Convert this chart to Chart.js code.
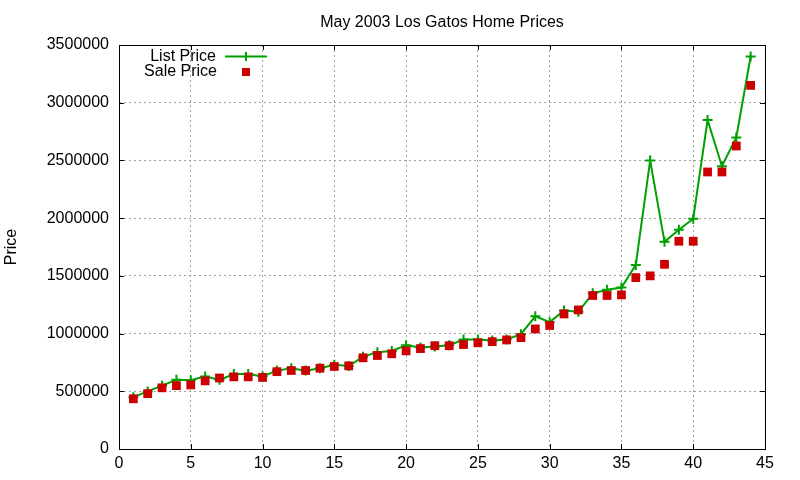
<!DOCTYPE html>
<html>
<head>
<meta charset="utf-8">
<title>May 2003 Los Gatos Home Prices</title>
<script src="https://cdn.jsdelivr.net/npm/chart.js@4/dist/chart.umd.min.js"></script>
<style>
  html, body { margin: 0; padding: 0; background: #fff; }
  #wrap { width: 800px; height: 480px; }
</style>
</head>
<body>
<div id="wrap"><canvas id="chart" width="800" height="480"></canvas></div>
<script>
const CHART_TITLE = 'May 2003 Los Gatos Home Prices';
const Y_TITLE = 'Price';
const LIST_LABEL = 'List Price';
const SALE_LABEL = 'Sale Price';

// house number (x axis)
const houseNo = [1, 2, 3, 4, 5, 6, 7, 8, 9, 10, 11, 12, 13, 14, 15, 16, 17, 18, 19, 20, 21, 22,
  23, 24, 25, 26, 27, 28, 29, 30, 31, 32, 33, 34, 35, 36, 37, 38, 39, 40, 41, 42, 43, 44];

const listPrice = [449000, 499000, 549000, 599000, 595000, 629000, 599000, 649000, 649000, 629000,
  679000, 699000, 679000, 699000, 729000, 719000, 799000, 839000, 849000, 899000,
  879000, 889000, 899000, 949000, 949000, 939000, 949000, 995000, 1150000, 1099000,
  1199000, 1189000, 1349000, 1379000, 1399000, 1595000, 2500000, 1795000, 1899000, 1995000,
  2850000, 2450000, 2699000, 3400000];

const salePrice = [435000, 480000, 530000, 549000, 555000, 590000, 615000, 625000, 625000, 620000,
  670000, 680000, 680000, 700000, 715000, 720000, 790000, 810000, 825000, 850000,
  870000, 895000, 895000, 905000, 920000, 930000, 945000, 965000, 1040000, 1070000,
  1170000, 1205000, 1330000, 1330000, 1335000, 1485000, 1500000, 1600000, 1800000, 1800000,
  2400000, 2400000, 2625000, 3150000];

const X_MIN = 0, X_MAX = 45, X_STEP = 5;
const Y_MIN = 0, Y_MAX = 3500000, Y_STEP = 500000;

const GREEN = '#00a000';
const RED = '#cc0000';
const FONT = 'Liberation Sans, Arial, sans-serif';
const FONT_SIZE = 16;

// gnuplot look: full box, inward ticks on all four sides, title / ylabel / key by hand
const gnuplotDecor = {
  id: 'gnuplotDecor',
  afterDraw(chart) {
    const ctx = chart.ctx;
    const a = chart.chartArea;
    const xs = chart.scales.x, ys = chart.scales.y;
    ctx.save();

    // box
    ctx.strokeStyle = '#000';
    ctx.lineWidth = 1;
    ctx.setLineDash([]);
    ctx.strokeRect(Math.round(a.left) + 0.5, Math.round(a.top) + 0.5,
      Math.round(a.right - a.left), Math.round(a.bottom - a.top));

    // inward tick marks
    const TL = 5;
    ctx.beginPath();
    xs.ticks.forEach(t => {
      const px = Math.round(xs.getPixelForValue(t.value)) + 0.5;
      ctx.moveTo(px, a.bottom); ctx.lineTo(px, a.bottom - TL);
      ctx.moveTo(px, a.top); ctx.lineTo(px, a.top + TL);
    });
    ys.ticks.forEach(t => {
      const py = Math.round(ys.getPixelForValue(t.value)) + 0.5;
      ctx.moveTo(a.left, py); ctx.lineTo(a.left + TL, py);
      ctx.moveTo(a.right, py); ctx.lineTo(a.right - TL, py);
    });
    ctx.stroke();

    ctx.fillStyle = '#000';
    ctx.font = FONT_SIZE + 'px ' + FONT;

    // title
    ctx.textAlign = 'center';
    ctx.textBaseline = 'alphabetic';
    ctx.fillText(CHART_TITLE, (a.left + a.right) / 2, 27);

    // y label
    ctx.save();
    ctx.translate(16, (a.top + a.bottom) / 2);
    ctx.rotate(-Math.PI / 2);
    ctx.fillText(Y_TITLE, 0, 0);
    ctx.restore();

    // key
    ctx.textAlign = 'right';
    ctx.fillText(LIST_LABEL, 216, 61);
    ctx.fillText(SALE_LABEL, 217, 76);

    ctx.strokeStyle = GREEN;
    ctx.lineWidth = 2;
    ctx.beginPath();
    ctx.moveTo(225, 56.5); ctx.lineTo(267, 56.5);
    ctx.moveTo(246, 52); ctx.lineTo(246, 61);
    ctx.stroke();

    ctx.fillStyle = RED;
    ctx.fillRect(242, 68, 8, 8);

    ctx.restore();
  }
};

const listPoints = houseNo.map((n, i) => ({ x: n, y: listPrice[i] }));
const salePoints = houseNo.map((n, i) => ({ x: n, y: salePrice[i] }));

new Chart(document.getElementById('chart').getContext('2d'), {
  type: 'scatter',
  data: {
    datasets: [
      {
        label: LIST_LABEL,
        data: listPoints,
        showLine: true,
        borderColor: GREEN,
        backgroundColor: GREEN,
        borderWidth: 2,
        pointStyle: 'cross',
        pointRadius: 5,
        pointBorderWidth: 2,
        pointBorderColor: GREEN,
        tension: 0,
        order: 1
      },
      {
        label: SALE_LABEL,
        data: salePoints,
        showLine: false,
        pointStyle: 'rect',
        pointRadius: 6.2,
        pointBorderWidth: 0,
        backgroundColor: RED,
        borderColor: RED,
        order: 0
      }
    ]
  },
  options: {
    responsive: false,
    animation: false,
    devicePixelRatio: 1,
    layout: { padding: { left: 0, right: 35, top: 45, bottom: 0 } },
    plugins: {
      legend: { display: false },
      title: { display: false },
      tooltip: { enabled: false }
    },
    scales: {
      x: {
        type: 'linear',
        min: X_MIN,
        max: X_MAX,
        afterFit: s => { s.height = 31; },
        ticks: { stepSize: X_STEP, color: '#000', padding: 5, font: { family: FONT, size: FONT_SIZE } },
        grid: { color: '#a0a0a0', lineWidth: 1, drawTicks: false },
        border: { display: false, dash: [2, 3] }
      },
      y: {
        type: 'linear',
        min: Y_MIN,
        max: Y_MAX,
        afterFit: s => { s.width = 119; },
        ticks: { stepSize: Y_STEP, color: '#000', padding: 10, font: { family: FONT, size: FONT_SIZE },
          callback: v => String(v) },
        grid: { color: '#a0a0a0', lineWidth: 1, drawTicks: false },
        border: { display: false, dash: [2, 3] }
      }
    }
  },
  plugins: [gnuplotDecor]
});
</script>
</body>
</html>
